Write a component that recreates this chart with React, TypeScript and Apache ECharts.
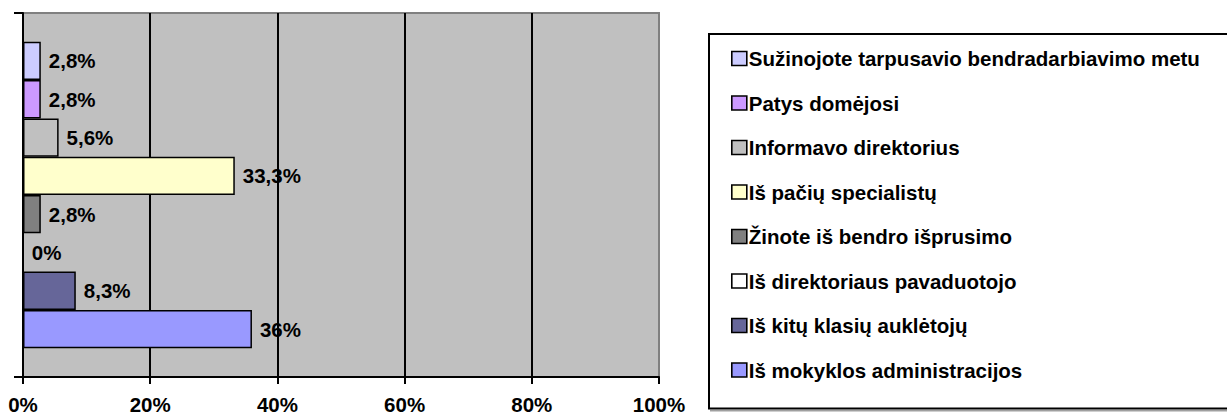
import React, { useEffect, useRef } from "react";
import * as echarts from "echarts";

const categories = ["Atsakymai"];
const seriesNames = [
  "Sužinojote tarpusavio bendradarbiavimo metu",
  "Patys domėjosi",
  "Informavo direktorius",
  "Iš pačių specialistų",
  "Žinote iš bendro išprusimo",
  "Iš direktoriaus pavaduotojo",
  "Iš kitų klasių auklėtojų",
  "Iš mokyklos administracijos",
];
const seriesValues = [2.8, 2.8, 5.6, 33.3, 2.8, 0, 8.3, 36];
const palette = ["#CCCCFF", "#CC99FF", "#C0C0C0", "#FFFFCC", "#808080", "#FFFFFF", "#666699", "#9999FF"];
const xTicks = [0, 20, 40, 60, 80, 100];

const FONT = "'Liberation Sans', Arial, sans-serif";
const FS = 20.5;

export default function App() {
  const ref = useRef<HTMLDivElement>(null);
  useEffect(() => {
    if (!ref.current) return;
    const chart = echarts.init(ref.current, null, { renderer: "svg" });
    const series = seriesNames.map((name, i) => ({
      name,
      type: "bar",
      data: [seriesValues[i]],
      barGap: "0%",
      barCategoryGap: "15.8%",
      itemStyle: { color: palette[i], borderColor: "#000", borderWidth: 1.5 },
      label: {
        show: true,
        position: "right",
        distance: 8,
        color: "#000",
        fontFamily: FONT,
        fontWeight: "bold",
        fontSize: FS,
        formatter: (p: any) => String(p.value).replace(".", ",") + "%",
      },
    }));
    chart.setOption({
      animation: false,
      backgroundColor: "#fff",
      grid: {
        left: 23,
        right: 568,
        top: 13,
        bottom: 39,
        show: true,
        backgroundColor: "#C0C0C0",
        borderColor: "#808080",
        borderWidth: 2,
      },
      legend: {
        orient: "vertical",
        left: 709,
        top: 34,
        data: seriesNames,
        icon: "rect",
        itemWidth: 15,
        itemHeight: 14,
        itemGap: 23.5,
        padding: [14, 90, 28, 22],
        borderColor: "#000",
        borderWidth: 2,
        backgroundColor: "#fff",
        shadowColor: "#a0a0a0",
        shadowOffsetX: 2,
        shadowOffsetY: 2,
        shadowBlur: 0,
        itemStyle: { borderColor: "#000", borderWidth: 1.6 },
        textStyle: {
          fontFamily: FONT,
          fontWeight: "bold",
          fontSize: FS,
          lineHeight: 20,
          color: "#000",
          padding: [0, 0, 0, -3],
        },
        selectedMode: false,
      },
      xAxis: {
        type: "value",
        min: 0,
        max: 100,
        interval: 20,
        axisLine: { show: true, lineStyle: { color: "#000", width: 2 } },
        axisTick: { show: true, length: 7, lineStyle: { color: "#000", width: 2 } },
        axisLabel: {
          margin: 17,
          color: "#000",
          fontFamily: FONT,
          fontWeight: "bold",
          fontSize: FS,
          formatter: (v: number) => (xTicks.includes(v) ? v + "%" : ""),
        },
        splitLine: {
          show: true,
          lineStyle: { color: ["#000", "#000", "#000", "#000", "#000", "#808080"], width: 2 },
        },
      },
      yAxis: {
        type: "category",
        data: categories,
        axisLine: { show: true, lineStyle: { color: "#000", width: 2 } },
        axisTick: { show: true, length: 9, lineStyle: { color: "#000", width: 2 } },
        axisLabel: { show: false },
        splitLine: { show: false },
      },
      series,
    });
    return () => chart.dispose();
  }, []);
  return (
    <div
      ref={ref}
      style={{ position: "fixed", left: 0, top: 0, width: 1227, height: 416 }}
    />
  );
}
